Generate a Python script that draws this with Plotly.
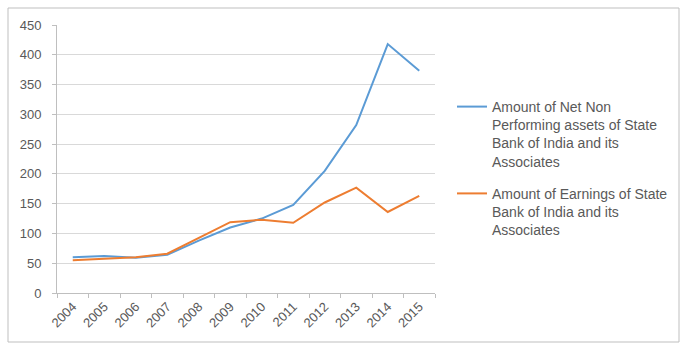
import plotly.graph_objects as go

years = ["2004", "2005", "2006", "2007", "2008", "2009", "2010", "2011", "2012", "2013", "2014", "2015"]
npa = [60, 62, 59, 64, 88, 110, 125, 148, 205, 282, 418, 373]
earnings = [55, 57, 60, 66, 93, 119, 123, 118, 152, 177, 136, 163]
y_ticks = [0, 50, 100, 150, 200, 250, 300, 350, 400, 450]
name_npa = "Amount of Net Non<br>Performing assets of State<br>Bank of India and its<br>Associates"
name_earn = "Amount of Earnings of State<br>Bank of India and its<br>Associates"

fig = go.Figure()
fig.add_trace(go.Scatter(x=years, y=npa, mode="lines", name=name_npa, legendgroup="a",
                         line=dict(color="#5b9bd5", width=2)))
fig.add_trace(go.Scatter(x=years, y=earnings, mode="lines", name=name_earn, legendgroup="b",
                         line=dict(color="#ed7d31", width=2)))

W, H = 680, 343
L, R, T, B = 57, 245, 25, 50
pw, ph = W - L - R, H - T - B

def px(x):
    return (x - L) / pw

def py(y):
    return (H - B - y) / ph

fig.update_layout(
    width=W, height=H,
    margin=dict(l=L, r=R, t=T, b=B, autoexpand=False),
    paper_bgcolor="white", plot_bgcolor="white",
    font=dict(family="Liberation Sans, Arial, sans-serif", size=13, color="#595959"),
    showlegend=True,
    legend=dict(x=px(452), y=py(91), xanchor="left", yanchor="top",
                font=dict(size=14, color="#595959"), tracegroupgap=11,
                traceorder="grouped", valign="top",
                itemwidth=30, bgcolor="rgba(0,0,0,0)"),
    xaxis=dict(type="category", range=[-0.5, 11.5], showgrid=False, showline=True,
               linecolor="#bfbfbf", ticks="outside", tickson="boundaries", ticklen=4,
               tickcolor="#bfbfbf", tickangle=-45, tickfont=dict(size=13, color="#595959")),
    yaxis=dict(range=[0, 450], tickvals=y_ticks, showgrid=True, gridcolor="#d9d9d9",
               showline=True, linecolor="#bfbfbf", ticks="outside", ticklen=4,
               tickcolor="#bfbfbf", zeroline=False, ticklabelstandoff=8,
               tickfont=dict(size=13, color="#595959")),
    shapes=[dict(type="rect", xref="paper", yref="paper",
                 x0=px(8), x1=px(679), y0=py(342), y1=py(8),
                 line=dict(color="#bfbfbf", width=1))],
)

fig.write_html("out.html")
